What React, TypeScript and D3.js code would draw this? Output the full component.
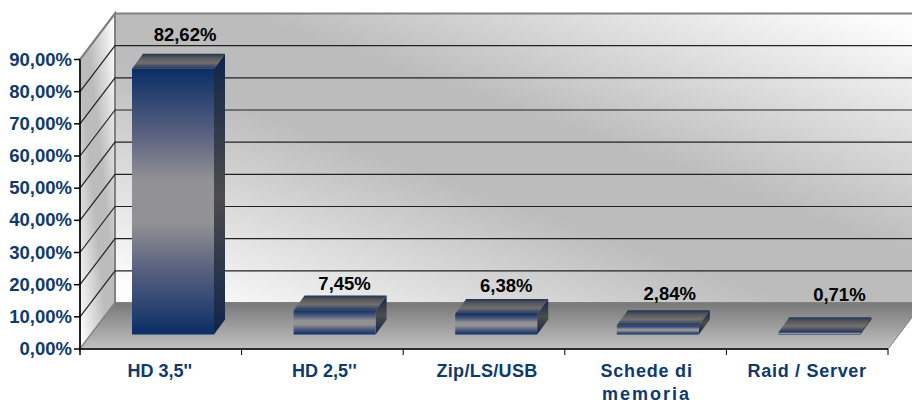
import React from "react";
import * as d3 from "d3";

const categories = ["HD 3,5''", "HD 2,5''", "Zip/LS/USB", "Schede di", "Raid / Server"];
const categoriesSecondLine = ["", "", "", "memoria", ""];
const shares = [82.62, 7.45, 6.38, 2.84, 0.71];
const yTicks = [0, 10, 20, 30, 40, 50, 60, 70, 80, 90];

// label placement is a bit irregular in the original
const labelDx = [12, 10, 10, 12, 20];
const labelDy = [-28, -21, -22, -25, -31];
const categorySpacing = [0, 0, 0.3, 0.8, 0.7];
const categoryDx = [-1, 2, 3, 1, 0];

const width = 912;
const height = 404;
const font = "'Liberation Sans', Arial, sans-serif";
const navy = "#0d3a6e";

const wallDx = 35;
const wallDy = -46;
const barDx = 11;
const barDy = -15;
const barOffset = 52;
const barWidth = 82;
const barFloor = 14.5;

const fmt = (v: number) => v.toFixed(2).replace(".", ",") + "%";

const App = () => {
  const x = d3.scaleBand<number>().domain(d3.range(categories.length)).range([80, 888]);
  const y = d3.scaleLinear().domain([0, 90]).range([349, 59.5]);
  const left = x.range()[0];
  const right = x.range()[1];
  const base = y(0);
  const top = y(90);
  const line = d3.line();

  return (
    <svg
      width={width}
      height={height}
      style={{ position: "absolute", left: 0, top: 0, background: "#fff" }}
    >
      <defs>
        <linearGradient id="wall" x1="0" y1="1" x2="1" y2="0">
          <stop offset="0.04" stopColor="#fcfcfc" />
          <stop offset="0.42" stopColor="#bcbcbc" />
          <stop offset="0.58" stopColor="#bcbcbc" />
          <stop offset="0.96" stopColor="#fcfcfc" />
        </linearGradient>
        <linearGradient id="floor" x1="0" y1="0" x2="0" y2="1">
          <stop offset="0" stopColor="#787878" />
          <stop offset="1" stopColor="#c2c2c2" />
        </linearGradient>
        <linearGradient id="barFront" x1="0" y1="0" x2="0" y2="1">
          <stop offset="0" stopColor="#0a2e66" />
          <stop offset="0.25" stopColor="#5a6280" />
          <stop offset="0.42" stopColor="#929294" />
          <stop offset="0.58" stopColor="#929294" />
          <stop offset="0.75" stopColor="#5a6280" />
          <stop offset="1" stopColor="#0a2e66" />
        </linearGradient>
        <linearGradient id="barTop" x1="0" y1="0" x2="0" y2="1">
          <stop offset="0" stopColor="#1f3157" />
          <stop offset="0.25" stopColor="#555558" />
          <stop offset="0.6" stopColor="#707070" />
          <stop offset="1" stopColor="#23365f" />
        </linearGradient>
        <linearGradient id="barSide" x1="0" y1="0" x2="0" y2="1">
          <stop offset="0" stopColor="#10244a" />
          <stop offset="0.5" stopColor="#4c4c4c" />
          <stop offset="1" stopColor="#10244a" />
        </linearGradient>
      </defs>

      {/* walls */}
      <path
        d={line([[left + wallDx, top + wallDy], [right + wallDx, top + wallDy], [right + wallDx, base + wallDy], [left + wallDx, base + wallDy]])! + "Z"}
        fill="url(#wall)"
        stroke="#808080"
        strokeWidth={2}
      />
      <path
        d={line([[left, base], [left, top], [left + wallDx, top + wallDy], [left + wallDx, base + wallDy]])! + "Z"}
        fill="url(#wall)"
        stroke="#808080"
        strokeWidth={2}
      />
      <path
        d={line([[left, base], [left + wallDx, base + wallDy], [right + wallDx, base + wallDy], [right, base]])! + "Z"}
        fill="url(#floor)"
        stroke="#808080"
        strokeWidth={1}
      />

      {/* gridlines */}
      {yTicks.slice(1, -1).map((t) => (
        <path
          key={t}
          d={line([[left, y(t)], [left + wallDx, y(t) + wallDy], [right + wallDx, y(t) + wallDy]])!}
          fill="none"
          stroke="#222"
          strokeWidth={1.2}
        />
      ))}
      <path d={line([[left, top], [left + wallDx, top + wallDy]])!} stroke="#808080" strokeWidth={2} fill="none" />

      {/* bars */}
      {shares.map((v, i) => {
        const x0 = x(i)! + barOffset;
        const x1 = x0 + barWidth;
        const y0 = base - barFloor;
        const y1 = y(v) - barFloor;
        return (
          <g key={categories[i]}>
            <path
              d={line([[x1, y0], [x1 + barDx, y0 + barDy], [x1 + barDx, y1 + barDy], [x1, y1]])! + "Z"}
              fill="url(#barSide)"
            />
            <path
              d={line([[x0, y1], [x0 + barDx, y1 + barDy], [x1 + barDx, y1 + barDy], [x1, y1]])! + "Z"}
              fill="url(#barTop)"
            />
            <rect x={x0} y={y1} width={barWidth} height={y0 - y1} fill="url(#barFront)" />
            <text
              x={x0 + barWidth / 2 + labelDx[i]}
              y={y1 + labelDy[i]}
              textAnchor="middle"
              fontFamily={font}
              fontWeight="bold"
              fontSize={18.5}
              fill="#000"
            >
              {fmt(v)}
            </text>
          </g>
        );
      })}

      {/* axes */}
      <line x1={left} x2={left} y1={top} y2={base + 6} stroke="#000" strokeWidth={1.5} />
      <line x1={left} x2={right} y1={base} y2={base} stroke="#000" strokeWidth={1.5} />
      {yTicks.map((t) => (
        <g key={t}>
          <line x1={left - 6} x2={left} y1={y(t)} y2={y(t)} stroke="#000" strokeWidth={1.5} />
          <text
            x={left - 8}
            y={y(t) + 6}
            textAnchor="end"
            fontFamily={font}
            fontWeight="bold"
            fontSize={18.5}
            fill={navy}
          >
            {fmt(t)}
          </text>
        </g>
      ))}
      {categories.map((c, i) => (
        <g key={c}>
          <line
            x1={x(i)! + x.bandwidth()}
            x2={x(i)! + x.bandwidth()}
            y1={base}
            y2={base + 6}
            stroke="#000"
            strokeWidth={1}
          />
          <text
            x={x(i)! + x.bandwidth() / 2 + categoryDx[i]}
            y={377}
            textAnchor="middle"
            fontFamily={font}
            fontWeight="bold"
            fontSize={18}
            letterSpacing={categorySpacing[i]}
            fill={navy}
          >
            {c}
          </text>
          {categoriesSecondLine[i] && (
            <text
              x={x(i)! + x.bandwidth() / 2 + categoryDx[i]}
              y={400}
              textAnchor="middle"
              fontFamily={font}
              fontWeight="bold"
              fontSize={18}
              letterSpacing={2}
              fill={navy}
            >
              {categoriesSecondLine[i]}
            </text>
          )}
        </g>
      ))}
    </svg>
  );
};

export default App;
